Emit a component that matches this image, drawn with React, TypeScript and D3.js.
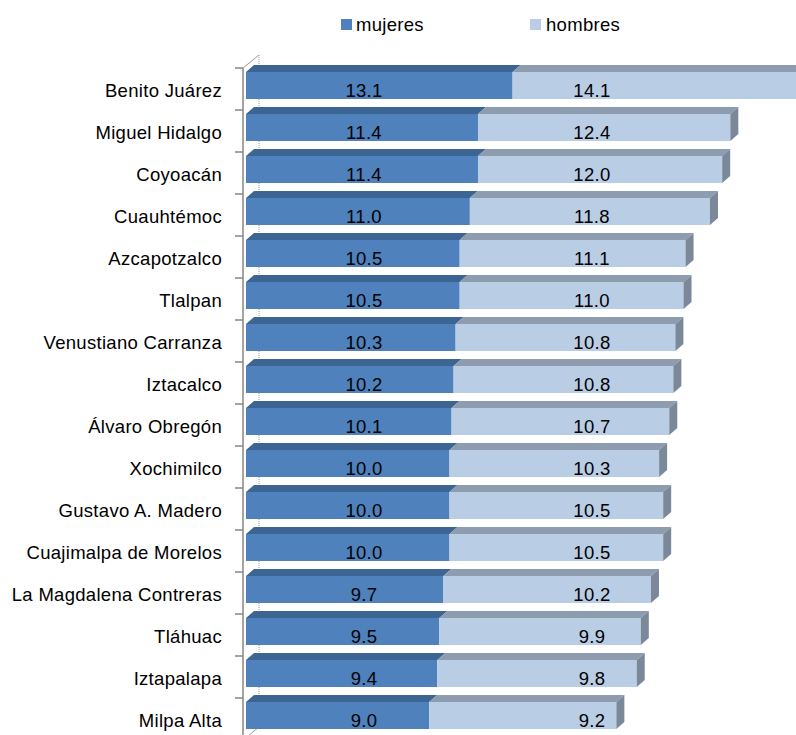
import React from 'react';
import * as d3 from 'd3';

const categorias = [
  'Benito Juárez',
  'Miguel Hidalgo',
  'Coyoacán',
  'Cuauhtémoc',
  'Azcapotzalco',
  'Tlalpan',
  'Venustiano Carranza',
  'Iztacalco',
  'Álvaro Obregón',
  'Xochimilco',
  'Gustavo A. Madero',
  'Cuajimalpa de Morelos',
  'La Magdalena Contreras',
  'Tláhuac',
  'Iztapalapa',
  'Milpa Alta',
];

const mujeres = [13.1, 11.4, 11.4, 11.0, 10.5, 10.5, 10.3, 10.2, 10.1, 10.0, 10.0, 10.0, 9.7, 9.5, 9.4, 9.0];
const hombres = [14.1, 12.4, 12.0, 11.8, 11.1, 11.0, 10.8, 10.8, 10.7, 10.3, 10.5, 10.5, 10.2, 9.9, 9.8, 9.2];

const series = ['mujeres', 'hombres'];

// where Excel's 3D chart put the data labels (in value units)
const LABEL_AT: Record<string, number> = { mujeres: 5.8, hombres: 17.0 };

const W = 796;
const H = 735;
const X0 = 246;
const PX_PER_UNIT = 20.35;
const AXIS_X = 243;
const TOP = 68;
const STEP = 42;
const DX = 8;
const DY = -7;
const WALL_DX = 16;
const WALL_DY = -13;
const FONT = 'Liberation Sans, Arial, sans-serif';
const FS = 18.5;
const LS = 0.3;

const FRONT: Record<string, string> = { mujeres: '#4F81BD', hombres: '#B9CDE5' };
const TOPFACE: Record<string, string> = { mujeres: '#3D6594', hombres: '#8D9CAF' };
const SIDE = '#7A8899';

export default function App() {
  const x = d3.scaleLinear().domain([0, 30]).range([X0, X0 + 30 * PX_PER_UNIT]);
  const y = d3
    .scaleBand<string>()
    .domain(categorias)
    .range([TOP, TOP + STEP * categorias.length])
    .padding(0);

  const rows = categorias.map((c, i) => {
    const stack = d3.stack<number[]>().keys(['0', '1'])([[mujeres[i], hombres[i]] as any]);
    return { c, segs: stack.map((s) => [s[0][0], s[0][1]]) };
  });

  const axisBottom = TOP + STEP * categorias.length;

  return (
    <div style={{ position: 'absolute', left: 0, top: 0 }}>
      <svg width={W} height={H} style={{ display: 'block', overflow: 'hidden' }} fontFamily={FONT}>
        {/* legend */}
        <g fontSize={FS} letterSpacing={LS} fill="#000">
          <rect x={341} y={19} width={11} height={11} fill={FRONT.mujeres} />
          <text x={356} y={31}>mujeres</text>
          <rect x={530} y={19} width={11} height={11} fill={FRONT.hombres} />
          <text x={546} y={31}>hombres</text>
        </g>

        {/* walls */}
        <g stroke="#9a9a9a" fill="none">
          <line x1={AXIS_X + WALL_DX} y1={TOP + WALL_DY} x2={AXIS_X + WALL_DX} y2={axisBottom + WALL_DY} strokeDasharray="1 1" />
          <line x1={AXIS_X} y1={TOP} x2={AXIS_X + WALL_DX} y2={TOP + WALL_DY} />
          <line x1={AXIS_X} y1={axisBottom} x2={AXIS_X + WALL_DX} y2={axisBottom + WALL_DY} />
        </g>

        {/* bars */}
        {rows.map(({ c, segs }) => {
          const bt = (y(c) ?? 0) + 4;
          const bb = bt + 27;
          const end = x(segs[1][1]);
          return (
            <g key={c}>
              {segs.map(([a, b], k) => {
                const s = series[k];
                const xa = x(a);
                const xb = x(b);
                return (
                  <g key={s}>
                    <polygon
                      points={`${xa},${bt} ${xa + DX},${bt + DY} ${xb + DX},${bt + DY} ${xb},${bt}`}
                      fill={TOPFACE[s]}
                    />
                    <rect x={xa} y={bt} width={xb - xa} height={bb - bt} fill={FRONT[s]} />
                  </g>
                );
              })}
              <polygon
                points={`${end},${bt} ${end + DX},${bt + DY} ${end + DX},${bb + DY} ${end},${bb}`}
                fill={SIDE}
              />
              {segs.map(([a, b], k) => {
                const s = series[k];
                return (
                  <text
                    key={s + 'l'}
                    x={x(LABEL_AT[s])}
                    y={(y(c) ?? 0) + STEP / 2 + 1}
                    textAnchor="middle"
                    dominantBaseline="central"
                    fontSize={FS}
                    letterSpacing={LS}
                    fill="#000"
                  >
                    {(b - a).toFixed(1)}
                  </text>
                );
              })}
            </g>
          );
        })}

        {/* category axis */}
        <g>
          <line x1={AXIS_X} y1={TOP} x2={AXIS_X} y2={axisBottom} stroke="#868686" strokeWidth={1.5} />
          {d3.range(categorias.length + 1).map((i) => (
            <line
              key={i}
              x1={AXIS_X - 8}
              x2={AXIS_X}
              y1={TOP + i * STEP}
              y2={TOP + i * STEP}
              stroke="#868686"
              strokeWidth={1.5}
            />
          ))}
          {categorias.map((c) => (
            <text
              key={c}
              x={222}
              y={(y(c) ?? 0) + STEP / 2 + 1}
              textAnchor="end"
              dominantBaseline="central"
              fontSize={FS}
              letterSpacing={LS}
              fill="#000"
            >
              {c}
            </text>
          ))}
        </g>
      </svg>
    </div>
  );
}
